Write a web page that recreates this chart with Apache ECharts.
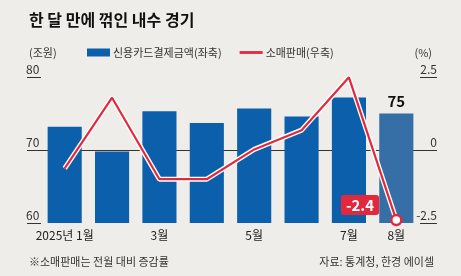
<!DOCTYPE html>
<html><head><meta charset="utf-8">
<script src="https://cdn.jsdelivr.net/npm/echarts@6/dist/echarts.min.js"></script>
<style>html,body{margin:0;padding:0;background:#efede9;}#c{width:461px;height:276px;}</style>
</head><body><div id="c"></div>
<script>
const categories = ['2025년 1월','2월','3월','4월','5월','6월','7월','8월'];
const axisLabels = ['2025년 1월','','3월','','5월','','7월','8월'];
const cardPayment = [73.2, 69.8, 75.3, 73.7, 75.7, 74.6, 77.2, 75];
const retailSales = [-0.63, 1.79, -1.0, -1.0, 0.02, 0.68, 2.49, -2.4];
const leftTicks = [60, 70, 80];
const rightTicks = [-2.5, 0, 2.5];

const numFont = "'Liberation Sans Narrow','Noto Sans CJK KR',sans-serif";
const krFont = "'Noto Sans CJK KR',sans-serif";
const chart = echarts.init(document.getElementById('c'), null, {renderer:'canvas'});
const last = cardPayment.length - 1;
chart.setOption({
  backgroundColor: '#efede9',
  animation: false,
  title: [
    {text: '한 달 만에 꺾인 내수 경기', left: 24, top: 7,
     textStyle: {fontFamily: krFont, fontSize: 16, fontWeight: 'bold', color: '#111'}},
    {text: '(조원)', left: 24, top: 42, textStyle: {fontFamily: krFont, fontSize: 11, fontWeight: 'normal', color: '#333'}},
    {text: '(%)', right: 24, top: 42, textStyle: {fontFamily: krFont, fontSize: 11, fontWeight: 'normal', color: '#333'}},
    {text: '※소매판매는 전월 대비 증감률', left: 24, top: 251, textStyle: {fontFamily: krFont, fontSize: 11, fontWeight: 'normal', color: '#333'}},
    {text: '자료: 통계청, 한경 에이셀', right: 22, top: 251, textStyle: {fontFamily: krFont, fontSize: 11, fontWeight: 'normal', color: '#333'}}
  ],
  legend: {
    left: 82, top: 42, itemGap: 18, itemWidth: 23, itemHeight: 8,
    data: [
      {name: '신용카드결제금액(좌축)', icon: 'rect'},
      {name: '소매판매(우축)', icon: 'path://M0,0 M0,2.6 L23,2.6 L23,5.4 L0,5.4 Z M23,8',
       itemStyle: {color: '#e2283d', borderWidth: 0}}
    ],
    textStyle: {fontFamily: krFont, fontSize: 11, color: '#333', padding: [0,0,0,-2]}
  },
  grid: {left: 41, right: 41, top: 77, bottom: 53},
  xAxis: {
    type: 'category', data: categories,
    axisLine: {lineStyle: {color: '#333', width: 1}},
    axisTick: {show: false},
    axisLabel: {interval: 0, margin: 6, fontFamily: krFont, fontSize: 12, color: '#222',
      formatter: (v, i) => axisLabels[i]}
  },
  yAxis: [
    {type: 'value', min: leftTicks[0], max: leftTicks[2], interval: 10,
     splitLine: {show: false}, axisLine: {show: false},
     axisTick: {show: true, length: 14, lineStyle: {color: '#333', width: 1}},
     axisLabel: {align: 'left', verticalAlign: 'bottom', margin: 15, padding: [0,0,2,0],
       fontFamily: numFont, fontSize: 12, color: '#333'}},
    {type: 'value', min: rightTicks[0], max: rightTicks[2], interval: 2.5,
     splitLine: {show: false}, axisLine: {show: false},
     axisTick: {show: true, length: 17, lineStyle: {color: '#333', width: 1}},
     axisLabel: {align: 'right', verticalAlign: 'bottom', margin: 17, padding: [0,0,2,0],
       fontFamily: numFont, fontSize: 12, color: '#333'}}
  ],
  series: [
    {name: '신용카드결제금액(좌축)', type: 'bar', yAxisIndex: 0, barWidth: '72%',
     itemStyle: {color: '#0b5fab'},
     data: cardPayment.map((v, i) => i === last ? {
       value: v, itemStyle: {color: '#356fa5'},
       label: {show: true, position: 'top', distance: 5, formatter: '{c}',
         fontFamily: numFont, fontSize: 15, fontWeight: 'bold', color: '#111'}
     } : v)},
    {name: 'outline', type: 'line', yAxisIndex: 1, symbol: 'none', silent: true,
     lineStyle: {color: '#ffffff', width: 5}, data: retailSales, z: 3},
    {name: '소매판매(우축)', type: 'line', yAxisIndex: 1, symbol: 'none',
     lineStyle: {color: '#e2283d', width: 2.2}, itemStyle: {color: '#e2283d'}, z: 4,
     data: retailSales.map((v, i) => i === last ? {
       value: v, symbol: 'circle', symbolSize: 10,
       itemStyle: {color: '#ffffff', borderColor: '#e2283d', borderWidth: 2.5},
       label: {show: true, position: 'left', distance: 11, offset: [0, -15],
         formatter: (p) => p.value.toFixed(1),
         backgroundColor: '#e2283d', borderRadius: 3, padding: [3, 5, 2, 5],
         fontFamily: numFont, fontSize: 15, fontWeight: 'bold', color: '#fff'}
     } : v)}
  ]
});
</script></body></html>
